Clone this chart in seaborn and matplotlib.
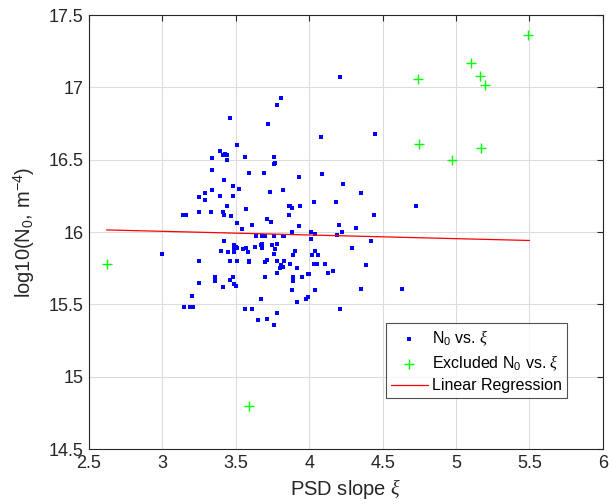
import matplotlib
matplotlib.use("Agg")
from matplotlib import pyplot as plt
from matplotlib.ticker import FuncFormatter
import seaborn as sns
import numpy as np

# N0 vs. xi (kept points)
xi = [3.46, 3.51, 3.39, 3.43, 3.41, 3.44, 3.34, 3.44, 3.56, 3.34,
      3.59, 3.42, 3.48, 3.52, 3.29, 3.34, 3.25, 3.39, 3.48, 3.29,
      3.44, 3.57, 3.14, 3.16, 3.25, 3.33, 3.41, 3.42, 3.47, 3.51,
      3.61, 3.54, 3.64, 3.42, 3.49, 3.50, 3.49, 3.51, 3.57, 3.55,
      3.63, 3.40, 3.45, 3.49, 3.58, 3.00, 3.25, 3.46, 3.51, 3.59,
      3.59, 3.36, 3.36, 3.46, 3.48, 3.25, 3.49, 3.50, 3.41, 3.20,
      3.15, 3.19, 3.21, 3.56, 3.61, 3.65, 3.81, 3.78, 3.72, 4.08,
      4.45, 3.76, 3.76, 3.77, 3.69, 3.93, 4.09, 4.23, 3.73, 3.82,
      4.35, 4.03, 4.18, 3.86, 3.87, 3.88, 3.94, 3.86, 3.71, 3.74,
      4.44, 3.93, 4.20, 4.32, 4.22, 3.88, 4.01, 4.04, 4.19, 3.68,
      3.70, 3.76, 3.82, 3.83, 4.01, 3.68, 3.67, 3.68, 3.68, 3.75,
      3.78, 4.42, 4.29, 3.77, 3.90, 3.76, 3.89, 4.04, 4.02, 4.06,
      3.71, 3.70, 3.78, 3.83, 3.87, 3.81, 3.82, 3.80, 4.03, 4.05,
      4.11, 4.39, 3.92, 3.78, 4.16, 4.13, 3.99, 4.00, 3.89, 3.89,
      3.95, 3.70, 3.88, 4.04, 4.35, 3.99, 3.98, 3.67, 3.92, 4.21,
      3.78, 3.71, 3.76, 4.73, 4.63, 4.21]
n0 = [16.79, 16.60, 16.56, 16.54, 16.53, 16.53, 16.51, 16.50, 16.52, 16.43,
      16.41, 16.36, 16.32, 16.30, 16.27, 16.29, 16.24, 16.25, 16.25, 16.22,
      16.18, 16.16, 16.12, 16.12, 16.14, 16.14, 16.14, 16.12, 16.11, 16.06,
      16.05, 16.02, 15.97, 15.94, 15.91, 15.90, 15.89, 15.89, 15.89, 15.88,
      15.90, 15.87, 15.86, 15.86, 15.86, 15.85, 15.80, 15.80, 15.80, 15.80,
      15.79, 15.69, 15.66, 15.67, 15.69, 15.65, 15.64, 15.63, 15.62, 15.56,
      15.48, 15.48, 15.48, 15.47, 15.47, 15.39, 16.93, 16.88, 16.75, 16.66,
      16.68, 16.52, 16.47, 16.48, 16.41, 16.38, 16.40, 16.33, 16.28, 16.29,
      16.27, 16.21, 16.21, 16.18, 16.18, 16.17, 16.18, 16.12, 16.09, 16.07,
      16.12, 16.04, 16.05, 16.03, 16.00, 16.00, 16.00, 15.99, 15.98, 15.97,
      15.97, 15.97, 15.97, 15.97, 15.95, 15.92, 15.91, 15.90, 15.89, 15.91,
      15.92, 15.94, 15.89, 15.88, 15.87, 15.85, 15.84, 15.87, 15.84, 15.84,
      15.81, 15.79, 15.80, 15.80, 15.78, 15.77, 15.76, 15.75, 15.78, 15.78,
      15.78, 15.77, 15.75, 15.72, 15.73, 15.72, 15.71, 15.71, 15.69, 15.66,
      15.69, 15.69, 15.60, 15.60, 15.61, 15.55, 15.54, 15.54, 15.52, 15.47,
      15.44, 15.40, 15.36, 16.18, 15.61, 17.07]

# excluded points
xi_excl = [2.62, 3.59, 4.74, 4.75, 4.97, 5.10, 5.16, 5.20, 5.17, 5.49]
n0_excl = [15.78, 14.80, 17.06, 16.61, 16.50, 17.17, 17.08, 17.02, 16.58, 17.36]

# linear regression line end points
reg_x = [2.62, 5.50]
reg_y = [16.015, 15.942]

sns.set_style("white")
plt.rcParams["font.family"] = ["Liberation Sans", "DejaVu Sans"]
plt.rcParams["mathtext.fontset"] = "custom"
plt.rcParams["mathtext.rm"] = "Liberation Sans"
plt.rcParams["mathtext.it"] = "Liberation Serif:italic"

fig = plt.figure(figsize=(6.09, 5.04), dpi=100)
ax = fig.add_axes([0.146, 0.109, 0.844, 0.861])

ax.grid(True, color="#dcdcdc", linewidth=0.8)
ax.set_axisbelow(True)

sns.scatterplot(x=xi, y=n0, ax=ax, color="#0000ff", marker="s", s=5,
                linewidth=0, label=r"N$_0$ vs. $\xi$", zorder=3)
sns.scatterplot(x=xi_excl, y=n0_excl, ax=ax, color="#00ff00", marker="+",
                s=45, linewidth=1.0, label=r"Excluded N$_0$ vs. $\xi$", zorder=3)
sns.lineplot(x=reg_x, y=reg_y, ax=ax, color="#ff0000", linewidth=0.9,
             label="Linear Regression", zorder=4)

ax.set_xlim(2.5, 6)
ax.set_ylim(14.5, 17.5)
ax.set_xticks(np.arange(2.5, 6.01, 0.5))
ax.set_yticks(np.arange(14.5, 17.51, 0.5))
fmt = FuncFormatter(lambda v, p: "%g" % v)
ax.xaxis.set_major_formatter(fmt)
ax.yaxis.set_major_formatter(fmt)

ax.tick_params(direction="in", length=4, width=0.8, top=True, right=True,
               labelsize=13, colors="#262626", pad=4)
for s in ax.spines.values():
    s.set_color("#262626")
    s.set_linewidth(0.8)

ax.set_xlabel(r"PSD slope $\xi$", fontsize=14.5, color="#262626", labelpad=4)
ax.set_ylabel(r"log10(N$_0$, m$^{-4}$)", fontsize=14.5, color="#262626", labelpad=8)

leg = ax.legend(loc="lower left", bbox_to_anchor=(0.578, 0.1175), borderaxespad=0,
                fontsize=11.5, frameon=True, fancybox=False, handlelength=2.3,
                handletextpad=0.3, borderpad=0.3, labelspacing=0.35, markerscale=1.0)
leg.get_frame().set_edgecolor("#262626")
leg.get_frame().set_linewidth(0.8)
for t in leg.get_texts():
    t.set_color("#000000")

fig.savefig("out.png", dpi=100)
